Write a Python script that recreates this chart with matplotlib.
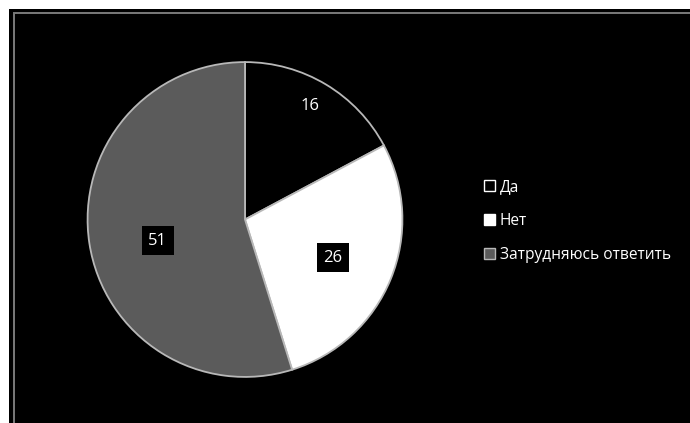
import numpy as np
import matplotlib.pyplot as plt
from matplotlib.patches import Rectangle

labels = ["Да", "Нет", "Затрудняюсь ответить"]
values = [16, 26, 51]

plt.rcParams['font.family'] = ['Open Sans', 'DejaVu Sans']

fig = plt.figure(figsize=(6.9, 4.23), dpi=100)
fig.patch.set_facecolor("white")

W, H = 690, 423
# чёрный фон и серая рамка
fig.patches.append(Rectangle((9 / W, 0), 1, (H - 9) / H, transform=fig.transFigure,
                             facecolor="black", edgecolor="none", zorder=-2))
fig.patches.append(Rectangle((13.5 / W, -0.1), 1.1, (H - 13.5) / H + 0.1, transform=fig.transFigure,
                             facecolor="none", edgecolor="#7a7a7a", linewidth=1.4, zorder=-1))

cx, cy, r = 245, 219.5, 159
ax = fig.add_axes([(cx - r) / W, (H - cy - r) / H, 2 * r / W, 2 * r / H])
ax.set_facecolor("none")
ax.set_zorder(2)

colors = ["black", "white", "#5b5b5b"]
wedges, _ = ax.pie(values, colors=colors, startangle=90, counterclock=False,
                   wedgeprops=dict(edgecolor="#b8b8b8", linewidth=1.3))
ax.set_xlim(-1.01, 1.01)
ax.set_ylim(-1.01, 1.01)
ax.set_aspect("equal")
ax.axis("off")

# подписи значений (расстояние от центра и небольшой сдвиг угла)
dists = [0.83, 0.61, 0.57]
shift = [1.3, -1.1, 4.9]
boxed = [False, True, True]
for w, v, d, s, b in zip(wedges, values, dists, shift, boxed):
    ang = np.deg2rad((w.theta1 + w.theta2) / 2 + s)
    x, y = d * np.cos(ang), d * np.sin(ang)
    kw = dict(boxstyle="square,pad=0.38", facecolor="black", edgecolor="none") if b else None
    ax.text(x, y, str(v), ha="center", va="center", color="white", fontsize=12, bbox=kw)

leg = fig.legend(wedges, labels, loc="center left", bbox_to_anchor=(484 / W, (H - 221) / H),
                 frameon=False, fontsize=11.2, labelcolor="white", handlelength=0.7,
                 handleheight=0.7, handletextpad=0.3, labelspacing=1.17, borderpad=0,
                 borderaxespad=0)
hs = leg.legend_handles
hs[0].set_edgecolor("white")
hs[1].set_edgecolor("white")
hs[2].set_edgecolor("#b8b8b8")
for h in hs:
    h.set_linewidth(1.0)

fig.savefig("out.png", dpi=100, facecolor=fig.get_facecolor())
